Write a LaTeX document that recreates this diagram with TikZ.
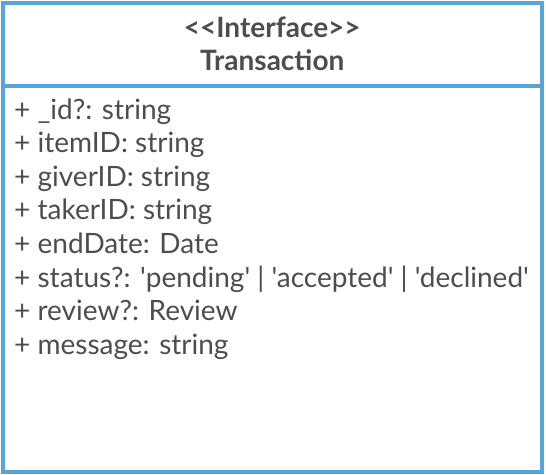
\documentclass[tikz,border=0pt]{standalone}
\usepackage{fontspec}
\setmainfont{Lato}[Ligatures=TeXOff]
\usepackage{tikz}
\usetikzlibrary{positioning}

\definecolor{umlblue}{RGB}{86,165,218}
\definecolor{umltext}{RGB}{77,77,77}

\begin{document}
\begin{tikzpicture}[
  x=1pt, y=1pt,
  font=\fontsize{28}{33}\selectfont, text=umltext,
  box/.style={rectangle, draw=umlblue, line width=4pt, outer sep=0pt,
              minimum width=539.5pt, inner sep=0pt},
  attr/.style={anchor=base west, inner sep=0pt, text height=22pt, text depth=7pt}]
  \useasboundingbox (0,0) rectangle (546,-474);
  \node[box, minimum height=83pt, anchor=north west, align=center,
        font=\fontsize{28}{33}\selectfont\bfseries] (head) at (2.5,-2.5)
        {<<Interface>>\\Transaction};
  \node[box, minimum height=386pt, below=0pt of head] (body) {};
  \node[attr] (id)     at (14,-119) {+ \_id?: string};
  \node[attr, below=4.2pt of id.south west, anchor=north west]      (item)    {+ itemID: string};
  \node[attr, below=4.2pt of item.south west, anchor=north west]    (giver)   {+ giverID: string};
  \node[attr, below=4.2pt of giver.south west, anchor=north west]   (taker)   {+ takerID: string};
  \node[attr, below=4.2pt of taker.south west, anchor=north west]   (enddate) {+ endDate: Date};
  \node[attr, below=4.2pt of enddate.south west, anchor=north west] (status)  {+ status?: 'pending' | 'accepted' | 'declined'};
  \node[attr, below=4.2pt of status.south west, anchor=north west]  (review)  {+ review?: Review};
  \node[attr, below=4.2pt of review.south west, anchor=north west]  (message) {+ message: string};
\end{tikzpicture}
\end{document}
